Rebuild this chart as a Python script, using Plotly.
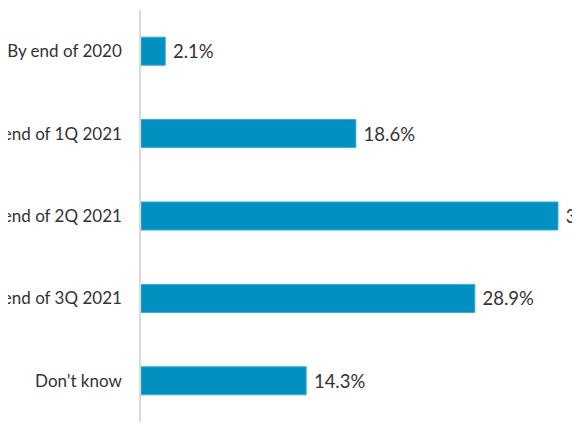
import plotly.graph_objects as go

categories = ['By end of 2020', 'By end of 1Q 2021', 'By end of 2Q 2021',
              'By end of 3Q 2021', 'Don\u2019t know']
values = [2.1, 18.6, 36.1, 28.9, 14.3]

fig = go.Figure(go.Bar(
    x=values, y=categories, orientation='h',
    marker=dict(color='#0091c0', line=dict(color='#3aa9d3', width=1)),
    text=[f'\u00a0{v:.1f}%' for v in values], textposition='outside',
    textfont=dict(family='Lato', size=18.5, color='#333333'),
    cliponaxis=False,
))

fig.update_layout(
    width=580, height=435,
    margin=dict(l=133, r=0, t=2, b=21, autoexpand=False),
    paper_bgcolor='white', plot_bgcolor='white',
    bargap=0.66, showlegend=False,
    font=dict(family='Lato', size=17, color='#333333'),
    xaxis=dict(range=[0, 38.7], visible=False, fixedrange=True),
    yaxis=dict(autorange='reversed', showline=True, linecolor='#d9d9d9', linewidth=1.5,
               showgrid=False, ticks='', ticklabelstandoff=14, automargin=False,
               tickfont=dict(family='Lato', size=17, color='#333333')),
)

fig.write_html("out.html")
